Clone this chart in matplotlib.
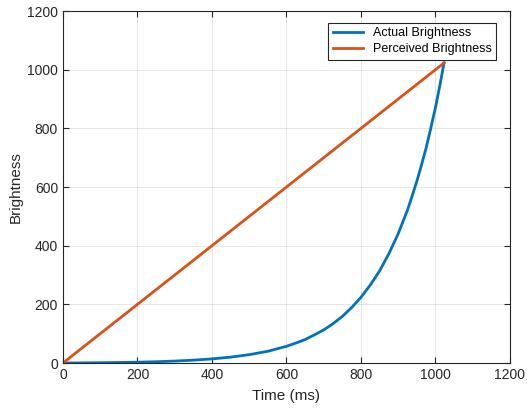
import matplotlib
matplotlib.use("Agg")
import matplotlib.pyplot as plt

# values
time_ms = [0, 50, 100, 150, 200, 250, 300, 350, 400, 450, 500, 550, 600, 625, 650, 675,
           700, 725, 750, 775, 800, 825, 850, 875, 900, 912, 925, 937, 950, 962, 975,
           987, 1000, 1012, 1023]
actual_brightness = [0, 0.4, 1, 1.8, 2.9, 4.4, 6.6, 9.7, 14, 20, 28.5, 40, 57, 68, 80, 96,
                     113, 134, 159, 189, 224, 266, 314, 373, 441, 480, 522, 568, 620, 673, 734,
                     798, 871, 948, 1023]
perceived_time = [0, 1023]
perceived_brightness = [0, 1023]

series_labels = ["Actual Brightness", "Perceived Brightness"]
x_ticks = [0, 200, 400, 600, 800, 1000, 1200]
y_ticks = [0, 200, 400, 600, 800, 1000, 1200]


def main():
    plt.rcParams['font.family'] = ['Liberation Sans', 'DejaVu Sans']
    fig = plt.figure(figsize=(5.27, 4.12), dpi=100)
    ax = fig.add_axes([0.1195, 0.1189, 0.8482, 0.8544])

    ax.plot(time_ms, actual_brightness, color='#0072BD', linewidth=2, label=series_labels[0])
    ax.plot(perceived_time, perceived_brightness, color='#D95319', linewidth=2, label=series_labels[1])

    ax.set_xlim(0, 1200)
    ax.set_ylim(0, 1200)
    ax.set_xticks(x_ticks)
    ax.set_yticks(y_ticks)
    ax.grid(True, color='#262626', alpha=0.13, linewidth=0.6)
    ax.set_axisbelow(True)

    for s in ax.spines.values():
        s.set_color('#262626')
        s.set_linewidth(0.8)
    ax.tick_params(direction='in', length=4, width=0.8, colors='#262626',
                   labelsize=10, top=True, right=True, labeltop=False, labelright=False)

    ax.set_xlabel("Time (ms)", fontsize=11, color='#262626', labelpad=5)
    ax.set_ylabel("Brightness", fontsize=11, color='#262626', labelpad=3)

    leg = ax.legend(loc='upper right', bbox_to_anchor=(0.9687, 0.9659), borderaxespad=0,
                    fontsize=9, handlelength=2.4, fancybox=False, framealpha=1,
                    edgecolor='#262626', labelspacing=0.3, borderpad=0.35)
    leg.get_frame().set_linewidth(0.8)

    fig.savefig("out.png", dpi=100)
    plt.close()
    return


if __name__ == "__main__":
    main()
